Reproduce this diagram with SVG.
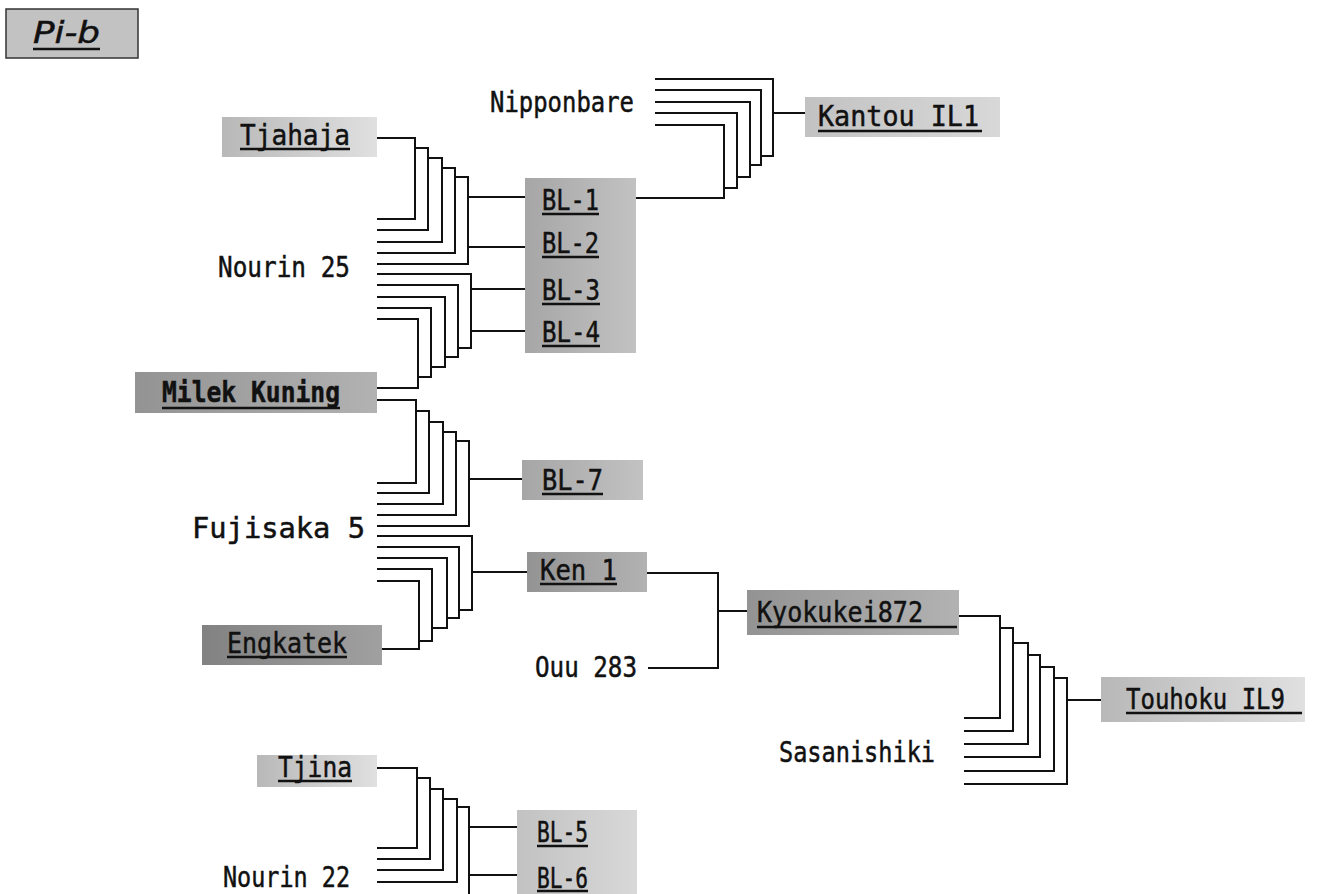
<svg xmlns="http://www.w3.org/2000/svg" width="1327" height="894" viewBox="0 0 1327 894">
<defs>
<linearGradient id="gLight" x1="0" y1="0" x2="1" y2="0"><stop offset="0" stop-color="#b8b8b8"/><stop offset="0.6" stop-color="#d0d0d0"/><stop offset="1" stop-color="#e0e0e0"/></linearGradient>
<linearGradient id="gMid" x1="0" y1="0" x2="1" y2="0"><stop offset="0" stop-color="#a6a6a6"/><stop offset="1" stop-color="#c2c2c2"/></linearGradient>
<linearGradient id="gDark" x1="0" y1="0" x2="1" y2="0"><stop offset="0" stop-color="#939393"/><stop offset="1" stop-color="#b2b2b2"/></linearGradient>
<linearGradient id="gDarker" x1="0" y1="0" x2="1" y2="0"><stop offset="0" stop-color="#828282"/><stop offset="1" stop-color="#a0a0a0"/></linearGradient>
<linearGradient id="gPale" x1="0" y1="0" x2="1" y2="0"><stop offset="0" stop-color="#c2c2c2"/><stop offset="1" stop-color="#d8d8d8"/></linearGradient>
</defs>
<style>
.t{font-family:"DejaVu Sans Mono","Liberation Mono",monospace;font-size:29px;fill:#111;stroke:#111;stroke-width:0.5}
.b{font-weight:bold}
.ul{stroke:#111;stroke-width:2.5}
.ln{fill:none;stroke:#111;stroke-width:2}
</style>
<g id="title">
<rect x="6" y="9" width="132" height="49" fill="#c2c2c2" stroke="#333" stroke-width="1.5"/>
<text x="33" y="43" font-family="'DejaVu Sans',sans-serif" font-size="30" font-style="italic" fill="#111" stroke="#111" stroke-width="0.5" textLength="67" lengthAdjust="spacingAndGlyphs">Pi-b</text>
<line class="ul" x1="33" y1="49" x2="100" y2="49"/>
</g>
<g id="connectors" class="ln">
<path d="M377,138H415V219H377M415,148H428V230H377M428,158H442V242H377M442,168H455V253H377M455,177H468V264H377M468,197H526M468,247H526"/>
<path d="M377,274H471V348H458M377,285H458V357H445M377,297H445V367H431M377,308H431V377H418M377,319H418V388H377M471,289H526M471,331H526"/>
<path d="M655,79H773V156H761M655,90H761V165H750M655,102H750V177H737M655,113H737V188H724M655,125H724V198H636M773,113H805"/>
<path d="M377,400H416V483H377M416,411H429V493H377M429,422H443V504H377M443,432H456V515H377M456,441H469V526H377M469,479H522"/>
<path d="M377,536H472V610H459M377,547H459V618H447M377,558H447V628H432M377,569H432V641H419M377,581H419V649H382M472,572H527"/>
<path d="M647,573H718V668H648M718,611H747"/>
<path d="M959,616H1000V718H964M1000,628H1013V731H964M1013,643H1028V744H964M1028,655H1040V757H964M1040,667H1054V771H964M1054,678H1067V784H964M1067,700H1101"/>
<path d="M377,768H417V848H377M417,778H430V859H377M430,789H443V870H377M443,799H457V882H377M457,807H469V896H377M469,827H517M469,875H517"/>
</g>
<g id="n-tjahaja">
<rect x="222" y="117" width="155" height="40" fill="url(#gLight)"/>
<text class="t" x="240" y="145" textLength="110" lengthAdjust="spacingAndGlyphs">Tjahaja</text>
<line class="ul" x1="240" y1="149" x2="350" y2="149"/>
</g>
<g id="n-bl1-4">
<rect x="525" y="178" width="111" height="175" fill="url(#gMid)"/>
<text class="t" x="542" y="210" textLength="57" lengthAdjust="spacingAndGlyphs">BL-1</text>
<line class="ul" x1="542" y1="214" x2="599" y2="214"/>
<text class="t" x="542" y="253" textLength="57" lengthAdjust="spacingAndGlyphs">BL-2</text>
<line class="ul" x1="542" y1="257" x2="599" y2="257"/>
<text class="t" x="542" y="300" textLength="58" lengthAdjust="spacingAndGlyphs">BL-3</text>
<line class="ul" x1="542" y1="304" x2="600" y2="304"/>
<text class="t" x="542" y="342" textLength="58" lengthAdjust="spacingAndGlyphs">BL-4</text>
<line class="ul" x1="542" y1="346" x2="600" y2="346"/>
</g>
<g id="n-nipponbare">
<text class="t" x="490" y="112" textLength="144" lengthAdjust="spacingAndGlyphs">Nipponbare</text>
</g>
<g id="n-kantou">
<rect x="805" y="97" width="195" height="40" fill="url(#gPale)"/>
<text class="t" x="818" y="126" textLength="161" lengthAdjust="spacingAndGlyphs">Kantou IL1</text>
<line class="ul" x1="818" y1="131" x2="982" y2="131"/>
</g>
<g id="n-nourin25">
<text class="t" x="218" y="277" textLength="132" lengthAdjust="spacingAndGlyphs">Nourin 25</text>
</g>
<g id="n-milek">
<rect x="135" y="372" width="242" height="41" fill="url(#gDark)"/>
<text class="t b" x="162" y="402" textLength="178" lengthAdjust="spacingAndGlyphs">Milek Kuning</text>
<line class="ul" x1="162" y1="408" x2="340" y2="408"/>
</g>
<g id="n-bl7">
<rect x="522" y="460" width="121" height="40" fill="url(#gMid)"/>
<text class="t" x="542" y="490" textLength="61" lengthAdjust="spacingAndGlyphs">BL-7</text>
<line class="ul" x1="542" y1="494" x2="603" y2="494"/>
</g>
<g id="n-fujisaka">
<text class="t" x="192" y="538" textLength="173" lengthAdjust="spacingAndGlyphs">Fujisaka 5</text>
</g>
<g id="n-ken1">
<rect x="527" y="552" width="120" height="40" fill="url(#gDark)"/>
<text class="t" x="540" y="580" textLength="77" lengthAdjust="spacingAndGlyphs">Ken 1</text>
<line class="ul" x1="540" y1="584" x2="617" y2="584"/>
</g>
<g id="n-engkatek">
<rect x="202" y="625" width="180" height="40" fill="url(#gDarker)"/>
<text class="t" x="227" y="653" textLength="120" lengthAdjust="spacingAndGlyphs">Engkatek</text>
<line class="ul" x1="227" y1="657" x2="347" y2="657"/>
</g>
<g id="n-ouu">
<text class="t" x="535" y="677" textLength="102" lengthAdjust="spacingAndGlyphs">Ouu 283</text>
</g>
<g id="n-kyokukei">
<rect x="747" y="590" width="212" height="45" fill="url(#gDark)"/>
<text class="t" x="757" y="622" textLength="166" lengthAdjust="spacingAndGlyphs">Kyokukei872</text>
<line class="ul" x1="757" y1="627" x2="957" y2="627"/>
</g>
<g id="n-touhoku">
<rect x="1101" y="677" width="204" height="45" fill="url(#gLight)"/>
<text class="t" x="1126" y="709" textLength="159" lengthAdjust="spacingAndGlyphs">Touhoku IL9</text>
<line class="ul" x1="1126" y1="713" x2="1302" y2="713"/>
</g>
<g id="n-sasanishiki">
<text class="t" x="779" y="762" textLength="156" lengthAdjust="spacingAndGlyphs">Sasanishiki</text>
</g>
<g id="n-tjina">
<rect x="257" y="755" width="120" height="32" fill="url(#gLight)"/>
<text class="t" x="278" y="777" textLength="74" lengthAdjust="spacingAndGlyphs">Tjina</text>
<line class="ul" x1="278" y1="781" x2="352" y2="781"/>
</g>
<g id="n-nourin22">
<text class="t" x="223" y="887" textLength="127" lengthAdjust="spacingAndGlyphs">Nourin 22</text>
</g>
<g id="n-bl5-6">
<rect x="517" y="810" width="120" height="84" fill="url(#gPale)"/>
<text class="t" x="537" y="842" textLength="51" lengthAdjust="spacingAndGlyphs">BL-5</text>
<line class="ul" x1="537" y1="846" x2="588" y2="846"/>
<text class="t" x="537" y="888" textLength="51" lengthAdjust="spacingAndGlyphs">BL-6</text>
<line class="ul" x1="537" y1="891" x2="588" y2="891"/>
</g>
</svg>
